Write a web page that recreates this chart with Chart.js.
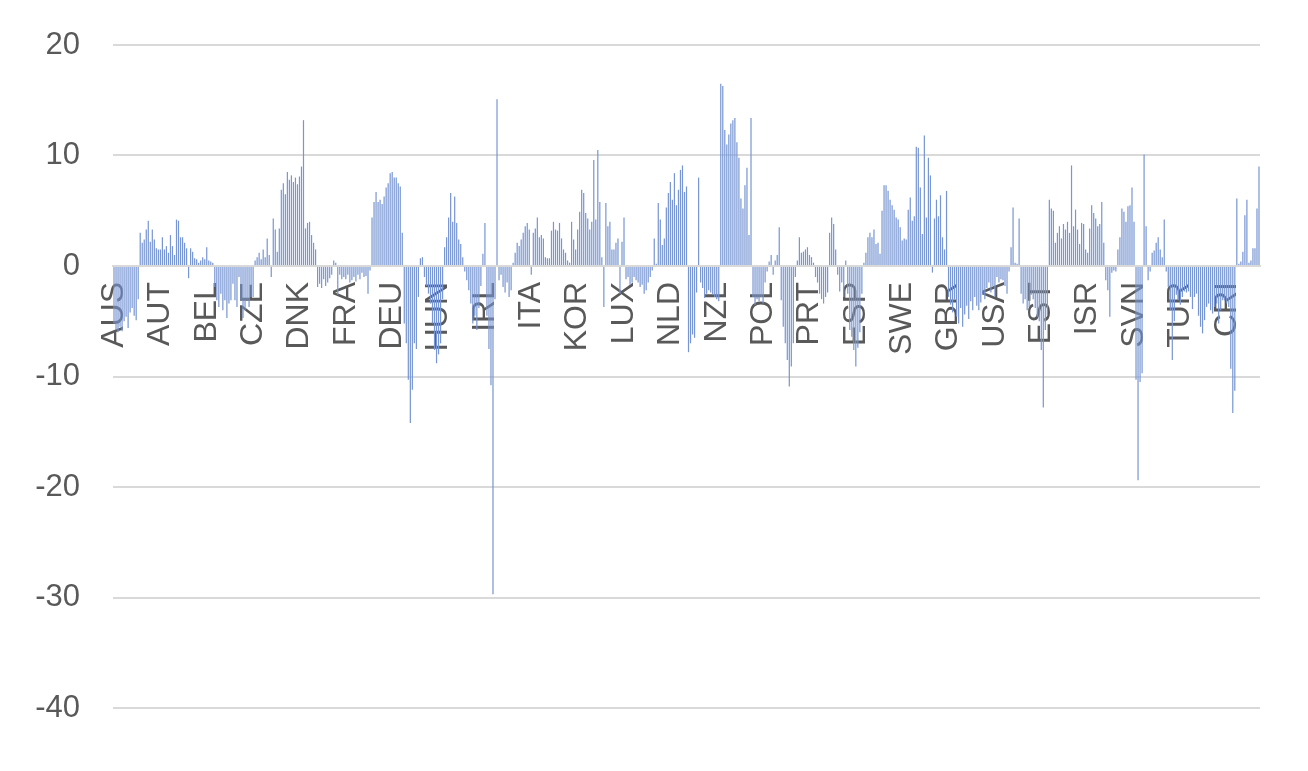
<!DOCTYPE html>
<html lang="en">
<head>
    <meta charset="UTF-8">
    <title>Chart</title>
    <script src="https://cdn.jsdelivr.net/npm/chart.js@4.4.1/dist/chart.umd.min.js"></script>
    <style>
        body {margin: 0; background: #ffffff;}
    </style>
</head>
<body>
    <canvas id="chart" width="1308" height="771"></canvas>

    <script>
    // one labelled category every 23 bars, name = first category of the block
    const blockNames = ['AUS', 'AUT', 'BEL', 'CZE', 'DNK', 'FRA', 'DEU', 'HUN', 'IRL', 'ITA', 'KOR', 'LUX', 'NLD',
                        'NZL', 'POL', 'PRT', 'ESP', 'SWE', 'GBR', 'USA', 'EST', 'ISR', 'SVN', 'TUR', 'CRI'];

    const vAUS = [-5.2, -5.8, -6.0, -5.5, -5.9, -5.0, -4.6, -5.6, -4.2, -3.8, -4.5, -4.9, -3.0, 3.0, 2.1, 2.4, 3.3, 4.1, 2.2, 3.3, 2.4, 1.6, 1.5];
    const vAUT = [1.5, 2.6, 1.5, 1.8, 1.2, 2.8, 1.8, 1.0, 4.2, 4.1, 2.6, 2.6, 2.1, 1.6, -1.1, 1.6, 1.3, 0.7, 0.6, 0.3, 0.5, 0.8, 0.6];
    const vBEL = [1.7, 0.5, 0.4, 0.3, -1.9, -3.1, -3.7, -2.5, -4.0, -3.1, -4.7, -3.4, -3.1, -1.6, -3.1, -3.7, -1.0, -3.1, -4.7, -4.0, -3.1, -3.7, -2.8];
    const vCZE = [-2.8, 0.5, 0.8, 1.2, 0.6, 1.5, 0.8, 2.5, 1.0, -1.0, 4.3, 3.3, 1.3, 3.4, 6.9, 7.5, 6.5, 8.5, 7.8, 8.2, 7.6, 8.0, 7.4];
    const vDNK = [8.1, 9.0, 13.2, 3.4, 3.9, 4.0, 2.8, 2.1, 1.5, -1.9, -1.6, -2.0, -1.2, -1.8, -1.5, -1.1, -0.8, 0.5, 0.3, -2.6, -0.8, -1.2, -1.0];
    const vFRA = [-1.2, -0.8, -1.5, -1.3, -1.0, -1.4, -0.8, -1.2, -0.6, -1.0, -0.9, -2.5, -0.4, 4.4, 5.8, 6.7, 5.8, 6.0, 5.6, 6.3, 7.1, 7.5, 8.4];
    const vDEU = [8.5, 8.0, 8.0, 7.5, 7.2, 3.0, -5.2, -7.0, -10.3, -14.2, -11.2, -7.0, -7.5, -2.8, 0.7, 0.8, -1.0, -1.8, -2.5, -3.4, -5.2, -7.6, -8.8];
    const vHUN = [-8.0, -7.0, -3.0, 1.7, 2.6, 4.4, 6.6, 4.0, 6.3, 3.9, 2.4, 2.0, 0.8, -0.5, -1.3, -2.2, -3.4, -5.2, -4.5, -5.8, -3.8, -1.8, 1.1];
    const vIRL = [3.9, -4.5, -7.5, -10.8, -29.7, -3.0, 15.1, -1.3, -0.8, -1.9, -2.4, -1.5, -2.8, -2.2, 0.3, 1.2, 2.1, 1.8, 2.4, 3.0, 3.6, 3.9, 3.3];
    const vITA = [-0.8, 3.0, 3.4, 4.4, 2.6, 2.8, 2.5, 0.8, 0.7, 0.7, 3.2, 4.0, 3.3, 3.2, 3.9, 2.5, 1.5, 1.2, 0.5, 0.3, 4.0, 2.4, 1.5];
    const vKOR = [3.3, 4.9, 6.9, 6.6, 4.8, 4.3, 3.3, 4.0, 9.6, 4.2, 10.5, 5.8, 0.8, -3.7, 5.7, 3.6, 4.0, 1.5, 1.5, 2.1, 2.5, -2.5, 2.2];
    const vLUX = [4.4, -1.2, -1.0, -1.7, -1.5, -1.0, -1.3, -1.5, -1.9, -1.7, -2.5, -2.2, -1.5, -1.0, -0.4, 2.5, 0.2, 5.7, 4.2, 1.9, 2.5, 5.3, 6.6];
    const vNLD = [7.6, 6.0, 8.4, 5.5, 6.9, 8.7, 9.1, 6.7, 7.2, -7.8, -7.0, -6.2, -6.5, -2.4, 8.0, -1.5, -2.0, -2.9, -2.5, -2.2, -2.4, -2.6, -2.8];
    const vNZL = [-3.0, -3.2, 16.5, 16.3, 12.3, 11.0, 11.9, 12.9, 13.2, 13.4, 11.2, 9.8, 6.1, 5.2, 7.3, 8.9, 2.8, 13.4, -2.8, -3.5, -3.0, -3.2, -2.8];
    const vPOL = [-3.4, -1.5, -0.5, 0.4, 1.0, -0.8, 0.5, 1.0, 3.5, -3.1, -5.5, -7.0, -8.5, -10.9, -9.1, -7.0, -1.0, 0.5, 2.6, 1.2, 1.3, 1.5, 1.7];
    const vPRT = [1.0, 0.8, 0.3, -1.0, -1.5, -2.5, -3.0, -3.4, -2.8, -2.4, 3.0, 4.4, 3.8, 1.5, -0.8, -2.3, -1.5, -2.8, 0.5, -2.5, -5.8, -6.4, -7.6];
    const vESP = [-9.1, -7.4, -6.0, -2.5, 0.3, 1.2, 2.6, 3.0, 2.6, 3.3, 2.0, 2.1, 1.1, 5.0, 7.3, 7.3, 6.8, 6.0, 5.5, 5.1, 4.4, 4.2, 3.5];
    const vSWE = [2.3, 2.5, 2.4, 5.1, 6.2, 4.1, 4.5, 10.8, 10.7, 7.1, 2.9, 11.8, 4.4, 9.8, 8.2, -0.6, 4.3, 6.0, 4.5, 6.4, 2.6, 1.5, 6.8];
    const vGBR = [-2.8, -3.5, -4.2, -3.0, -4.6, -5.2, -3.8, -5.5, -4.4, -3.6, -4.8, -3.2, -4.0, -2.8, -3.6, -4.0, -3.3, -2.6, -3.0, -2.0, -1.5, -2.4, -1.8];
    const vUSA = [-2.8, -1.0, -1.5, -1.2, -1.3, -1.8, -2.5, -0.5, 1.7, 5.3, 0.3, 0.2, 4.3, -2.5, -3.4, -3.0, -4.0, -3.7, -2.6, -3.0, -3.8, -4.6, -5.0];
    const vEST = [-7.6, -12.8, -5.8, -4.5, 6.0, 5.2, 5.0, 2.1, 3.0, 3.6, 2.5, 3.8, 3.3, 4.0, 3.0, 9.1, 3.6, 5.1, 3.3, 2.0, 3.9, 3.8, 1.5];
    const vISR = [1.2, 3.4, 5.5, 4.8, 4.3, 3.6, 3.8, 5.8, 2.1, -1.3, -2.2, -4.6, -0.6, -0.4, -0.5, 1.5, 2.6, 5.2, 4.9, 4.0, 5.4, 5.5, 7.1];
    const vSVN = [4.0, -10.3, -19.4, -10.5, -9.7, 10.1, 3.6, -1.3, -0.5, 1.2, 1.4, 2.1, 2.6, 1.5, 0.8, 4.2, -0.5, -1.9, -4.0, -8.5, -5.0, -2.6, -3.1];
    const vTUR = [-3.5, -2.8, -2.3, -2.4, -2.3, -2.8, -3.9, -2.8, -2.5, -4.5, -5.5, -6.1, -4.9, -3.7, -3.4, -4.0, -4.3, -3.7, -3.4, -5.2, -4.0, -3.1, -3.1];
    const vCRI = [-3.4, -3.7, -9.3, -13.3, -11.3, 6.1, 0.2, 0.4, 1.3, 4.6, 6.0, 0.3, 0.5, 1.6, 1.6, 5.2, 9.0];

    const yTicks = [-40, -30, -20, -10, 0, 10, 20];

    const blocks = [vAUS, vAUT, vBEL, vCZE, vDNK, vFRA, vDEU, vHUN, vIRL, vITA, vKOR, vLUX, vNLD,
                    vNZL, vPOL, vPRT, vESP, vSWE, vGBR, vUSA, vEST, vISR, vSVN, vTUR, vCRI];

    const values = blocks.flat();
    const labels = blocks.flatMap((b, i) => b.map((v, j) => j === 0 ? blockNames[i] : ''));

    // keep the plot box where the layout padding puts it
    function noOverhang(s) {
        s.paddingTop = 0;
        s.paddingBottom = 0;
        s.paddingLeft = 0;
        s.paddingRight = 0;
    }

    const ctx = document.getElementById('chart').getContext('2d');

    const config = {
        type: 'bar',
        data: {
            labels: labels,
            datasets: [{
                data: values,
                backgroundColor: '#7896d3',
                barPercentage: 0.6,
                categoryPercentage: 1.0
            }]
        },
        options: {
            responsive: false,
            animation: false,
            layout: {padding: {top: 45, bottom: 63, left: 0, right: 48}},
            plugins: {legend: {display: false}, tooltip: {enabled: false}},
            scales: {
                x: {
                    type: 'category',
                    position: {y: 0},
                    afterFit: noOverhang,
                    grid: {display: false},
                    border: {display: true, color: '#d9d9d9', width: 2},
                    ticks: {
                        autoSkip: false,
                        minRotation: 90,
                        maxRotation: 90,
                        padding: 8,
                        color: '#595959',
                        font: {family: 'Liberation Sans', size: 32},
                        callback: (v, i) => labels[i]
                    }
                },
                y: {
                    min: yTicks[0],
                    max: yTicks[yTicks.length - 1],
                    afterBuildTicks: (s) => { s.ticks = yTicks.map(v => ({value: v})); },
                    afterFit: (s) => { noOverhang(s); s.width = 113; },
                    grid: {color: '#d9d9d9', lineWidth: 2, drawTicks: false},
                    border: {display: false},
                    ticks: {
                        padding: 33,
                        color: '#595959',
                        font: {family: 'Liberation Sans', size: 31}
                    }
                }
            }
        }
    };

    let myChart = new Chart(ctx, config);
    </script>
</body>
</html>
